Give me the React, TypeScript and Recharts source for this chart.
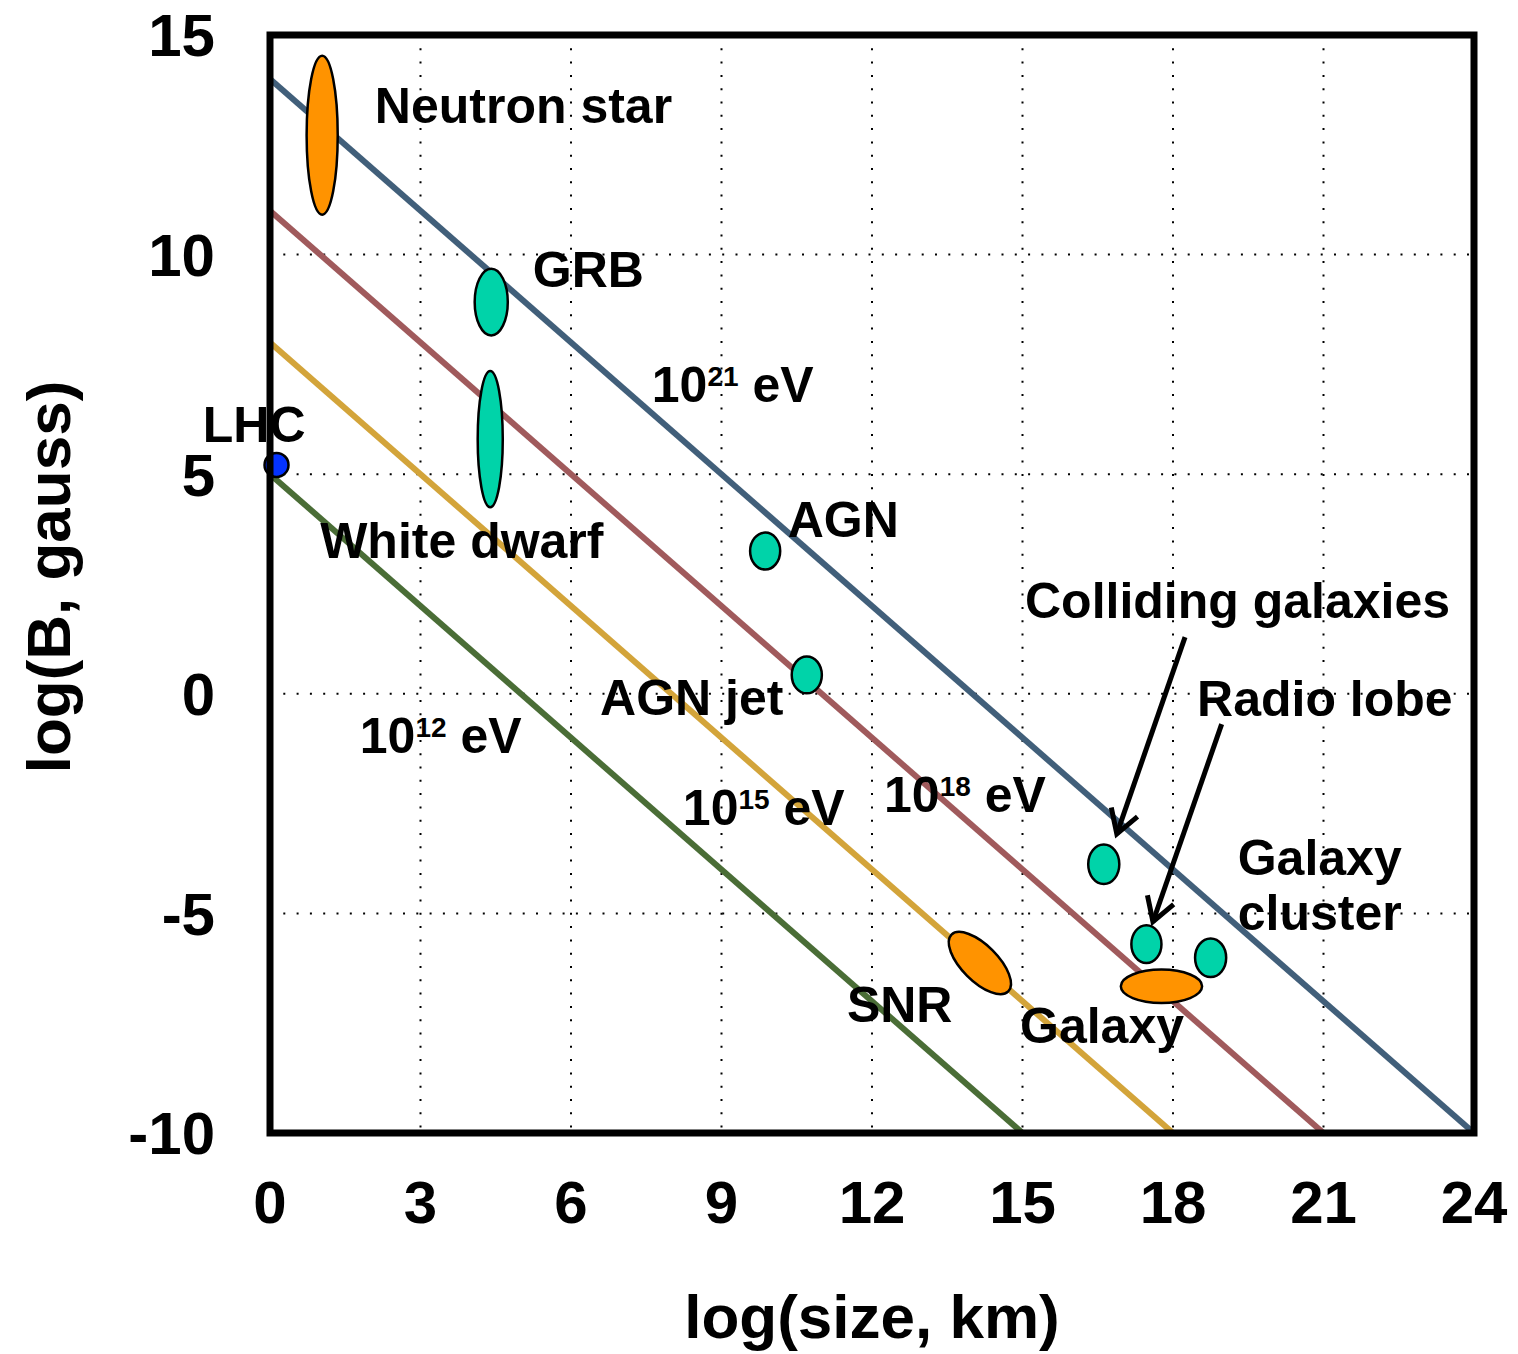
import {
  ComposedChart, Line, XAxis, YAxis, CartesianGrid,
  ReferenceArea, ReferenceDot, ReferenceLine, Label,
} from "recharts";

const FONT = '"Liberation Sans", Arial, Helvetica, sans-serif';

const xTicks = [0, 3, 6, 9, 12, 15, 18, 21, 24];
const yTicks = [-10, -5, 0, 5, 10, 15];

// Hillas condition lines (log B = const - log R)
const line21 = [{ size: 0, b: 14 }, { size: 24, b: -10 }];
const line18 = [{ size: 0, b: 11 }, { size: 21, b: -10 }];
const line15 = [{ size: 0, b: 8 }, { size: 18, b: -10 }];
const line12 = [{ size: 0, b: 5 }, { size: 15, b: -10 }];

// sources: centre and half-range in log(size) / log(B)
const sourceNames = ["Neutron star", "GRB", "White dwarf", "AGN", "AGN jet", "Colliding galaxies", "Radio lobe", "Galaxy cluster", "Galaxy", "SNR"];
const sourceSize = [1.04, 4.41, 4.39, 9.87, 10.7, 16.62, 17.47, 18.75, 17.77, 14.15];
const sourceB = [12.72, 8.92, 5.8, 3.25, 0.43, -3.88, -5.7, -6.01, -6.66, -6.13];
const sourceSizeSpan = [0.31, 0.33, 0.25, 0.3, 0.3, 0.31, 0.3, 0.31, 0.81, 0.8];
const sourceBSpan = [1.81, 0.76, 1.55, 0.42, 0.42, 0.45, 0.43, 0.44, 0.38, 0.41];

const lhc = { size: 0.13, b: 5.21 };

const ORANGE = "#ff9300";
const TEAL = "#00d3a9";
const orangeSources = ["Neutron star", "Galaxy", "SNR"];
const tilted: Record<string, number> = { SNR: 45 };

// annotations: [text, superscript, rest, x, y]
const labels: [string, string, string, number, number][] = [
  ["Neutron star", "", "", 2.09, 12.99],
  ["GRB", "", "", 5.24, 9.26],
  ["10", "21", " eV", 7.61, 6.64],
  ["LHC", "", "", -1.34, 5.74],
  ["AGN", "", "", 10.32, 3.57],
  ["White dwarf", "", "", 1.0, 3.09],
  ["Colliding galaxies", "", "", 15.05, 1.73],
  ["AGN jet", "", "", 6.58, -0.48],
  ["Radio lobe", "", "", 18.48, -0.51],
  ["10", "12", " eV", 1.79, -1.35],
  ["10", "18", " eV", 12.24, -2.69],
  ["10", "15", " eV", 8.23, -2.99],
  ["Galaxy", "", "", 19.29, -4.13],
  ["cluster", "", "", 19.29, -5.38],
  ["SNR", "", "", 11.5, -7.47],
  ["Galaxy", "", "", 14.95, -7.95],
];

const arrows = [
  [{ x: 18.24, y: 1.29 }, { x: 16.88, y: -3.19 }],
  [{ x: 18.97, y: -0.69 }, { x: 17.6, y: -5.19 }],
];

const ellipseShape = (fill: string, tilt: number) => (p: any) => {
  const cx = p.x + p.width / 2;
  const cy = p.y + p.height / 2;
  return (
    <ellipse
      cx={cx} cy={cy} rx={Math.abs(p.width) / 2} ry={Math.abs(p.height) / 2}
      fill={fill} stroke="#000" strokeWidth={2.5}
      transform={tilt ? `rotate(${tilt} ${cx} ${cy})` : undefined}
    />
  );
};

const arrowShape = (p: any) => {
  const { x1, y1, x2, y2 } = p;
  const back = Math.atan2(y1 - y2, x1 - x2);
  const len = 27;
  const spread = 0.54;
  const ax = x2 + len * Math.cos(back - spread);
  const ay = y2 + len * Math.sin(back - spread);
  const bx = x2 + len * Math.cos(back + spread);
  const by = y2 + len * Math.sin(back + spread);
  return (
    <g>
      <line x1={x1} y1={y1} x2={x2} y2={y2} stroke="#000" strokeWidth={5} />
      <polyline points={`${ax},${ay} ${x2},${y2} ${bx},${by}`} fill="none" stroke="#000" strokeWidth={5} />
    </g>
  );
};

const textShape = (main: string, sup: string, rest: string) => (p: any) => (
  <text x={p.cx} y={p.cy} fontFamily={FONT} fontWeight="bold" fontSize={50} fill="#000">
    {main}
    {sup && <tspan fontSize={28} dy={-16}>{sup}</tspan>}
    {rest && <tspan dy={sup ? 16 : 0}>{rest}</tspan>}
  </text>
);

const tickStyle = { fontFamily: FONT, fontWeight: "bold" as const, fontSize: 60, fill: "#000" };

export default function App() {
  return (
    <div style={{ position: "absolute", left: 0, top: 0, background: "#fff" }}>
      <ComposedChart width={1518} height={1354} margin={{ top: 35, right: 44, bottom: 61, left: 70 }}>
        <CartesianGrid stroke="#000" strokeWidth={2} strokeDasharray="2 11.3" />
        <XAxis
          type="number" dataKey="size" domain={[0, 24]} ticks={xTicks} height={160}
          axisLine={false} tickLine={false} tickSize={0} tickMargin={47} tick={tickStyle}
          allowDataOverflow
        >
          <Label
            content={(props: any) => {
              const vb = props.viewBox;
              return (
                <text x={vb.x + vb.width / 2} y={1338} textAnchor="middle" fontFamily={FONT} fontWeight="bold" fontSize={62} fill="#000">
                  log(size, km)
                </text>
              );
            }}
          />
        </XAxis>
        <YAxis
          type="number" dataKey="b" domain={[-10, 15]} ticks={yTicks} width={200}
          axisLine={false} tickLine={false} tickSize={0} tickMargin={55} tick={tickStyle}
          allowDataOverflow
        >
          <Label
            content={(props: any) => {
              const vb = props.viewBox;
              const cy = vb.y + vb.height / 2 - 7;
              return (
                <text x={70} y={cy} transform={`rotate(-90 70 ${cy})`} textAnchor="middle" fontFamily={FONT} fontWeight="bold" fontSize={62} fill="#000">
                  log(B, gauss)
                </text>
              );
            }}
          />
        </YAxis>

        <Line data={line12} dataKey="b" stroke="#4a6d36" strokeWidth={6} dot={false} isAnimationActive={false} />
        <Line data={line15} dataKey="b" stroke="#d3a43a" strokeWidth={6} dot={false} isAnimationActive={false} />
        <Line data={line18} dataKey="b" stroke="#a05a5c" strokeWidth={6} dot={false} isAnimationActive={false} />
        <Line data={line21} dataKey="b" stroke="#415f7a" strokeWidth={6} dot={false} isAnimationActive={false} />

        {sourceNames.map((name, i) => (
          <ReferenceArea
            key={name}
            x1={sourceSize[i] - sourceSizeSpan[i]} x2={sourceSize[i] + sourceSizeSpan[i]}
            y1={sourceB[i] - sourceBSpan[i]} y2={sourceB[i] + sourceBSpan[i]}
            shape={ellipseShape(orangeSources.includes(name) ? ORANGE : TEAL, tilted[name] || 0)}
            ifOverflow="visible"
            zIndex={700}
          />
        ))}

        <ReferenceDot x={lhc.size} y={lhc.b} r={12} fill="#0433ff" stroke="#000" strokeWidth={2.5} ifOverflow="visible" zIndex={700} />

        {arrows.map((seg, i) => (
          <ReferenceLine key={i} segment={seg} shape={arrowShape} ifOverflow="visible" zIndex={800} />
        ))}

        {labels.map(([main, sup, rest, x, y], i) => (
          <ReferenceDot key={i} x={x} y={y} r={0} shape={textShape(main, sup, rest)} ifOverflow="visible" zIndex={900} />
        ))}

        <ReferenceArea x1={0} x2={24} y1={-10} y2={15} fill="none" fillOpacity={0} stroke="#000" strokeWidth={7} ifOverflow="visible" zIndex={1000} />
      </ComposedChart>
    </div>
  );
}
